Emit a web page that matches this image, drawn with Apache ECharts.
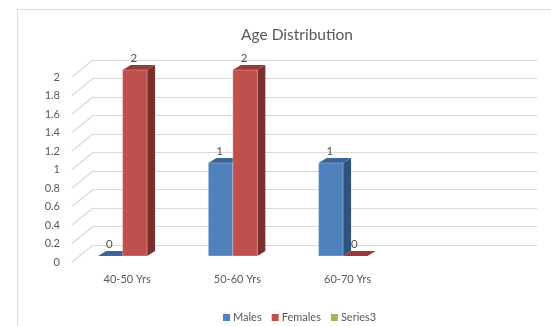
<!DOCTYPE html>
<html><head><meta charset="utf-8">
<script src="https://cdn.jsdelivr.net/npm/echarts@6/dist/echarts.min.js"></script>
<style>html,body{margin:0;padding:0;background:#fff}#c{width:551px;height:326px}</style>
</head><body><div id="c"></div>
<script>
var categories = ['40-50 Yrs', '50-60 Yrs', '60-70 Yrs', ''];
var males = [0, 1, 1];
var females = [2, 2, 0];
var series3 = [];
var yTicks = [0, 0.2, 0.4, 0.6, 0.8, 1, 1.2, 1.4, 1.6, 1.8, 2];
var seriesNames = ['Males', 'Females', 'Series3'];

var FONT = 'Lato';
var DX = 8, DY = 5;
var faces = [
  {front: '#4F81BD', top: '#3C6496', side: '#30537E'},
  {front: '#C0504D', top: '#983A37', side: '#7B2F2D'},
  {front: '#9BBB59', top: '#7C9A45', side: '#647D37'}
];

function barRender(sIdx) {
  return function (params, api) {
    var cat = api.value(0), v = api.value(1);
    var top = api.coord([cat, v]);
    var base = api.coord([cat, 0]);
    var band = api.size([1, 0])[0];
    var bw = band / 4.5;
    var left = top[0] - 1.5 * bw + sIdx * bw;
    var right = left + bw;
    var f = faces[sIdx];
    var ch = [];
    ch.push({type: 'polygon', shape: {points: [[right, top[1]], [right + DX, top[1] - DY], [right + DX, base[1] - DY], [right, base[1]]]}, style: {fill: f.side}});
    ch.push({type: 'polygon', shape: {points: [[left, top[1]], [left + DX, top[1] - DY], [right + DX, top[1] - DY], [right, top[1]]]}, style: {fill: f.top}});
    if (base[1] - top[1] > 0.5) {
      ch.push({type: 'rect', shape: {x: left, y: top[1], width: bw, height: base[1] - top[1]}, style: {fill: f.front, stroke: 'rgba(255,255,255,0.35)', lineWidth: 0.8}});
    }
    ch.push({type: 'text', style: {text: String(v), x: left + bw / 2 - 1, y: top[1] - 12, align: 'center', verticalAlign: 'middle', fill: '#505050', font: '11.5px ' + FONT}});
    return {type: 'group', children: ch};
  };
}

var chart = echarts.init(document.getElementById('c'), null, {renderer: 'canvas'});
chart.setOption({
  animation: false,
  textStyle: {fontFamily: FONT},
  title: {text: 'Age Distribution', left: 292, top: 22, textAlign: 'center',
    textStyle: {fontFamily: FONT, fontSize: 15.5, fontWeight: 'normal', color: '#595959'}},
  graphic: [{type: 'rect', shape: {x: 17.5, y: 9.5, width: 700, height: 500}, style: {fill: 'none', stroke: '#D9D9D9', lineWidth: 1}, silent: true, z: -10}],
  legend: {data: seriesNames, left: 218, top: 307, icon: 'rect', itemWidth: 7, itemHeight: 7, itemGap: 10,
    textStyle: {fontFamily: FONT, fontSize: 11, color: '#595959', padding: [0, 0, 0, -2]}},
  grid: [
    {left: 93, top: 60, width: 444, height: 185},
    {left: 72, top: 77, width: 441, height: 185},
    {left: 79.7, top: 70, width: 441, height: 186}
  ],
  xAxis: [
    {gridIndex: 0, type: 'value', min: 0, max: 1, show: false},
    {gridIndex: 1, type: 'category', data: categories, axisLine: {show: false}, axisTick: {show: false},
      axisLabel: {color: '#595959', fontSize: 11, margin: 12, fontFamily: FONT}},
    {gridIndex: 2, type: 'category', data: categories, show: false}
  ],
  yAxis: [
    {gridIndex: 0, type: 'value', min: 0, max: 2, interval: 0.2, axisLabel: {show: false}, axisLine: {show: false}, axisTick: {show: false},
      splitLine: {show: true, lineStyle: {color: '#D9D9D9', width: 1.2}}},
    {gridIndex: 1, type: 'value', min: 0, max: 2, interval: 0.2, axisLine: {show: false}, axisTick: {show: false}, splitLine: {show: false},
      axisLabel: {color: '#595959', fontSize: 11, margin: 12, fontFamily: FONT}},
    {gridIndex: 2, type: 'value', min: 0, max: 2, show: false}
  ],
  series: [
    {type: 'custom', name: 'walls', xAxisIndex: 0, yAxisIndex: 0, silent: true, z: 1,
      data: yTicks.map(function (t) { return [0, t]; }),
      renderItem: function (params, api) {
        var p = api.coord([0, api.value(1)]);
        var x0 = params.coordSys.x;
        return {type: 'line', shape: {x1: x0, y1: p[1], x2: x0 - 21, y2: p[1] + 17}, style: {stroke: '#D9D9D9', lineWidth: 1.2}};
      }},
    {type: 'custom', name: 'Males', xAxisIndex: 2, yAxisIndex: 2, z: 5, itemStyle: {color: faces[0].front},
      data: males.map(function (v, i) { return [i, v]; }), renderItem: barRender(0)},
    {type: 'custom', name: 'Females', xAxisIndex: 2, yAxisIndex: 2, z: 5, itemStyle: {color: faces[1].front},
      data: females.map(function (v, i) { return [i, v]; }), renderItem: barRender(1)},
    {type: 'custom', name: 'Series3', xAxisIndex: 2, yAxisIndex: 2, z: 5, itemStyle: {color: faces[2].front},
      data: series3.map(function (v, i) { return [i, v]; }), renderItem: barRender(2)}
  ]
});
</script></body></html>
